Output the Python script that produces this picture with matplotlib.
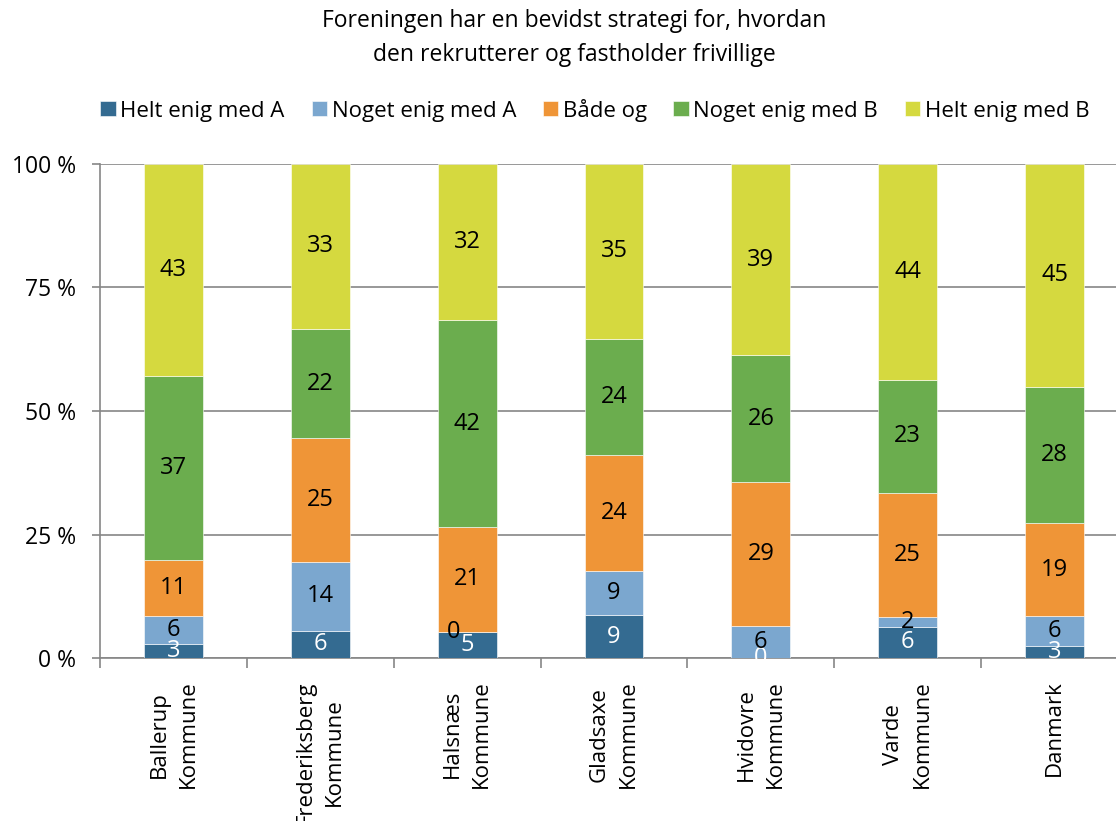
import matplotlib
matplotlib.use("Agg")
import matplotlib.pyplot as plt
import numpy as np

plt.rcParams['font.family'] = ['Open Sans', 'DejaVu Sans']

categories = ["Ballerup\nKommune", "Frederiksberg\nKommune", "Halsnæs\nKommune",
              "Gladsaxe\nKommune", "Hvidovre\nKommune", "Varde\nKommune", "Danmark"]
series_names = ["Helt enig med A", "Noget enig med A", "Både og",
                "Noget enig med B", "Helt enig med B"]
helt_a = [2.8, 5.5, 5.3, 8.7, 0.0, 6.3, 2.4]
noget_a = [5.7, 13.9, 0.0, 8.9, 6.5, 2.0, 6.1]
baade = [11.3, 25.1, 21.2, 23.5, 29.1, 25.1, 18.8]
noget_b = [37.3, 22.1, 41.9, 23.5, 25.7, 22.9, 27.6]
helt_b = [42.9, 33.4, 31.6, 35.4, 38.7, 43.7, 45.1]
labels = [[3, 6, 5, 9, 0, 6, 3],
          [6, 14, 0, 9, 6, 2, 6],
          [11, 25, 21, 24, 29, 25, 19],
          [37, 22, 42, 24, 26, 23, 28],
          [43, 33, 32, 35, 39, 44, 45]]

colors = ["#346b91", "#7ba7cf", "#ef9537", "#6bad4e", "#d5d93f"]
text_colors = ["white", "black", "black", "black", "black"]

fig = plt.figure(figsize=(11.16, 8.21), dpi=100)
ax = fig.add_axes([100 / 1116, 163 / 821, 1028 / 1116, 494 / 821])

x = np.arange(len(categories))
data = np.array([helt_a, noget_a, baade, noget_b, helt_b])
data = data / data.sum(axis=0) * 100
bottom = np.zeros(len(categories))
handles = []
for i, name in enumerate(series_names):
    bars = ax.bar(x, data[i], 0.4, bottom=bottom, color=colors[i],
                  edgecolor="white", linewidth=0.4, zorder=3, label=name)
    handles.append(bars)
    for j in range(len(categories)):
        yc = bottom[j] + data[i][j] / 2
        dx = 0
        if labels[i][j] == 0 and i > 0:
            dx = -10
        ax.annotate(str(labels[i][j]), (x[j], yc), xytext=(dx, 0),
                    textcoords="offset points", ha="center", va="center",
                    fontsize=17, color=text_colors[i], zorder=5)
    bottom += data[i]

ax.set_xlim(-0.5, 6.5)
ax.set_ylim(0, 100)
ax.set_yticks([0, 25, 50, 75, 100])
ax.set_yticklabels(["0 %", "25 %", "50 %", "75 %", "100 %"], fontsize=16.5)
ax.yaxis.grid(True, color="#868686", linewidth=1.2, zorder=0)
ax.set_xticks(x)
ax.set_xticklabels(categories, rotation=90, fontsize=16, multialignment="center",
                   va="top", ha="center", linespacing=1.5)
ax.set_xticks(np.arange(-0.5, 7, 1), minor=True)
ax.tick_params(axis="x", which="major", length=0, pad=16)
ax.tick_params(axis="x", which="minor", length=7, width=1.2, color="#868686")
ax.tick_params(axis="y", length=6, width=1.2, color="#868686", pad=11)
for s in ["top", "right"]:
    ax.spines[s].set_visible(False)
for s in ["left", "bottom"]:
    ax.spines[s].set_color("#868686")
    ax.spines[s].set_linewidth(1.2)

fig.text(574 / 1116, 1 - 38 / 821,
         "Foreningen har en bevidst strategi for, hvordan\nden rekrutterer og fastholder frivillige",
         ha="center", va="center", fontsize=16.5, linespacing=1.55)
fig.legend(handles=handles, loc="center", bbox_to_anchor=(595 / 1116, 1 - 110 / 821),
           ncol=5, frameon=False, fontsize=16, handlelength=0.7, handleheight=0.7,
           handletextpad=0.2, columnspacing=1.2)

plt.savefig("out.png", dpi=100)
